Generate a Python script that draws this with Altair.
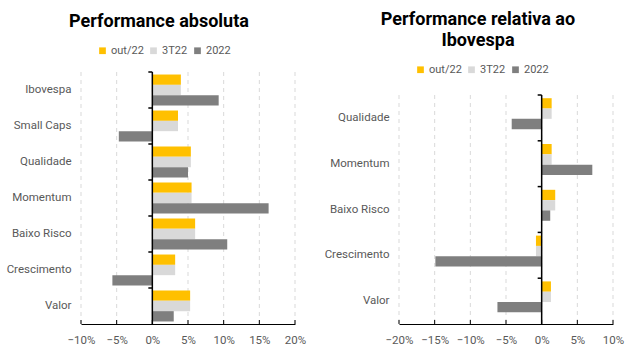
import altair as alt
import pandas as pd

series = ["out/22", "3T22", "2022"]
colors = ["#FFC000", "#D9D9D9", "#7F7F7F"]

abs_categories = ["Ibovespa", "Small Caps", "Qualidade", "Momentum", "Baixo Risco", "Crescimento", "Valor"]
abs_out22 = [4.0, 3.6, 5.4, 5.5, 6.0, 3.2, 5.3]
abs_3t22 = [4.0, 3.6, 5.4, 5.5, 6.0, 3.2, 5.3]
abs_2022 = [9.3, -4.7, 5.0, 16.3, 10.5, -5.6, 3.0]

rel_categories = ["Qualidade", "Momentum", "Baixo Risco", "Crescimento", "Valor"]
rel_out22 = [1.4, 1.4, 1.9, -0.8, 1.3]
rel_3t22 = [1.4, 1.4, 1.9, -0.8, 1.3]
rel_2022 = [-4.2, 7.1, 1.2, -14.9, -6.2]

abs_ticks = [-10, -5, 0, 5, 10, 15, 20]
rel_ticks = [-20, -15, -10, -5, 0, 5, 10]

FONT = "Roboto"
LABEL = "#595959"
W = 214
H = 252
PI = 0.14


def long_df(cats, vals_list):
    rows = []
    for s, vals in zip(series, vals_list):
        for c, v in zip(cats, vals):
            rows.append({"category": c, "series": s, "value": v / 100})
    return pd.DataFrame(rows)


def panel(df, cats, ticks, title, top, legend_y, title_offset, title_dx):
    t = [v / 100 for v in ticks]
    xscale = alt.Scale(domain=[t[0], t[-1]], nice=False, zero=False)
    yscale = alt.Scale(paddingInner=PI, paddingOuter=PI / 2, range=[top, H])
    step = (H - top) / len(cats)
    xaxis = alt.Axis(values=t, format=".0%", grid=False, domainColor="#000000",
                     ticks=False, labelFontSize=11.5, labelColor=LABEL, labelPadding=10,
                     labelFont=FONT, title=None, labelOverlap=False, labelFlush=False)
    yaxis = alt.Axis(domain=False, ticks=False, title=None, labelFontSize=11.5,
                     labelColor=LABEL, labelPadding=10, labelFont=FONT, grid=False)
    tick_df = pd.DataFrame({"value": t})
    cat_df = pd.DataFrame({"category": cats, "zero": [0.0] * len(cats)})
    grid = alt.Chart(tick_df).mark_rule(color="#D9D9D9", strokeDash=[4, 4], strokeWidth=1).encode(
        x=alt.X("value:Q", scale=xscale, axis=xaxis),
        y=alt.value(top),
        y2=alt.value(H),
    )
    bars = alt.Chart(df).mark_bar().encode(
        x=alt.X("value:Q", scale=xscale, axis=xaxis),
        y=alt.Y("category:N", sort=cats, scale=yscale, axis=yaxis),
        yOffset=alt.YOffset("series:N", sort=series,
                            scale=alt.Scale(paddingInner=0, paddingOuter=0)),
        color=alt.Color("series:N", scale=alt.Scale(domain=series, range=colors),
                        legend=alt.Legend(orient="none", legendX=16, legendY=legend_y,
                                          direction="horizontal", title=None,
                                          symbolType="square", symbolSize=45,
                                          symbolStrokeWidth=0, labelFontSize=11,
                                          labelColor=LABEL, labelFont=FONT,
                                          columnPadding=4, labelOffset=3)),
    )
    zero_line = alt.Chart(tick_df).mark_rule(color="#000000", strokeWidth=1.5).encode(
        x=alt.X("zero:Q", scale=xscale, axis=xaxis),
        y=alt.value(top),
        y2=alt.value(H),
    ).transform_calculate(zero="0").transform_filter("datum.value == 0")
    cat_ticks = alt.Chart(cat_df).mark_rule(
        color="#000000", strokeWidth=1.5, xOffset=-4, x2Offset=0, yOffset=-step * PI / 2
    ).encode(
        x=alt.X("zero:Q", scale=xscale, axis=xaxis),
        x2="zero:Q",
        y=alt.Y("category:N", sort=cats, scale=yscale, axis=yaxis, bandPosition=0),
    )
    xt = alt.Chart(tick_df).mark_rule(color="#000000").encode(
        x=alt.X("value:Q", scale=xscale, axis=xaxis),
        y=alt.value(H - 4),
        y2=alt.value(H),
    )
    return alt.layer(grid, bars, zero_line, cat_ticks, xt).properties(
        width=W, height=H,
        title=alt.TitleParams(text=title, fontSize=18, fontWeight="bold", font=FONT,
                              color="#000000", anchor="middle", frame="group",
                              dx=title_dx, lineHeight=21, offset=title_offset),
    )


left = panel(long_df(abs_categories, [abs_out22, abs_3t22, abs_2022]),
             abs_categories, abs_ticks, "Performance absoluta", 0, -27, 14, -29)
right = panel(long_df(rel_categories, [rel_out22, rel_3t22, rel_2022]),
              rel_categories, rel_ticks, ["Performance relativa ao", "Ibovespa"], 23, -8, 14, -28)

chart = alt.hconcat(left, right, spacing=18).resolve_scale(color="independent").properties(
    padding={"left": 6, "top": 11, "right": 3, "bottom": 1}
).configure_view(stroke=None)

chart.save("out.html", embed_options={"renderer": "svg", "actions": False})
